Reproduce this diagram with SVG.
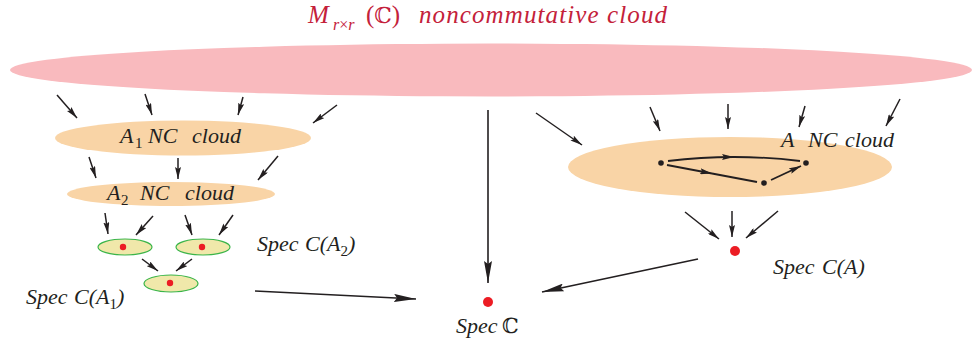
<svg xmlns="http://www.w3.org/2000/svg" width="973" height="346" viewBox="0 0 973 346">
<defs>
<marker id="ah" viewBox="0 0 12 6" refX="12" refY="3" markerWidth="12" markerHeight="6" markerUnits="userSpaceOnUse" orient="auto"><path d="M0,0 L12,3 L0,6 L2,3 Z" fill="#231f20"/></marker>
<marker id="ahl" viewBox="0 0 22 8" refX="22" refY="4" markerWidth="22" markerHeight="8" markerUnits="userSpaceOnUse" orient="auto"><path d="M0,0 L22,4 L0,8 L3,4 Z" fill="#231f20"/></marker>
</defs>
<style>
.t{font-family:"Liberation Serif","Times New Roman",serif;font-style:italic;fill:#231f20;font-size:22px}
.up{font-style:normal}
.bb{font-family:"DejaVu Serif","DejaVu Sans",serif;font-style:normal}
.ttl{font-family:"Liberation Serif","Times New Roman",serif;font-style:italic;fill:#c4213a;font-size:25px}
.a{stroke:#231f20;stroke-width:1.5;fill:none;marker-end:url(#ah)}
.al{stroke:#231f20;stroke-width:1.6;fill:none;marker-end:url(#ahl)}
.g{stroke:#231f20;stroke-width:1.8;fill:none}
.cloud{fill:#f9d4a6}
.pt{fill:#ec1c24}
.sm{fill:#f0e8aa;stroke:#3bb54a;stroke-width:1.2}
</style>

<g id="title">
<text class="ttl" y="23"><tspan x="308">M</tspan><tspan x="333" y="30" font-size="16">r</tspan><tspan class="up" y="30" font-size="16">×</tspan><tspan y="30" font-size="16">r</tspan><tspan class="up" x="366" y="23">(</tspan><tspan class="bb" font-size="22">ℂ</tspan><tspan class="up">)</tspan><tspan x="419" textLength="248">noncommutative cloud</tspan></text>
</g>

<g id="nc-cloud"><ellipse cx="491" cy="70" rx="481" ry="26.5" fill="#f9babe"/></g>

<g id="a1-cloud">
<ellipse class="cloud" cx="183" cy="138" rx="128" ry="17.5"/>
<text class="t" y="143"><tspan x="120">A</tspan><tspan class="up" x="135" y="148" font-size="15">1</tspan><tspan x="148" y="143">NC</tspan><tspan x="192">cloud</tspan></text>
</g>

<g id="a2-cloud">
<ellipse class="cloud" cx="171" cy="194" rx="104" ry="12"/>
<text class="t" y="200"><tspan x="107">A</tspan><tspan class="up" x="121" y="205" font-size="15">2</tspan><tspan x="140" y="200">NC</tspan><tspan x="185">cloud</tspan></text>
</g>

<g id="spec-a2-pts">
<ellipse class="sm" cx="125" cy="247" rx="27" ry="8"/><circle class="pt" cx="123" cy="247" r="3.2"/>
<ellipse class="sm" cx="203" cy="247" rx="27" ry="8"/><circle class="pt" cx="202" cy="247" r="3.2"/>
<ellipse class="sm" cx="171" cy="283.5" rx="27" ry="8.5"/><circle class="pt" cx="170" cy="283" r="3.2"/>
</g>

<g id="spec-a2-label"><text class="t" y="251"><tspan x="257">Spec</tspan><tspan x="305">C(A</tspan><tspan class="up" y="256" font-size="15">2</tspan><tspan y="251">)</tspan></text></g>
<g id="spec-a1-label"><text class="t" y="304"><tspan x="26">Spec</tspan><tspan x="74">C(A</tspan><tspan class="up" y="309" font-size="15">1</tspan><tspan y="304">)</tspan></text></g>

<g id="a-cloud">
<ellipse class="cloud" cx="730" cy="167" rx="162" ry="30"/>
<text class="t" y="147"><tspan x="781">A</tspan><tspan x="808">NC</tspan><tspan x="845">cloud</tspan></text>
<circle cx="661" cy="163" r="2.8" fill="#231f20"/>
<circle cx="806" cy="163" r="2.8" fill="#231f20"/>
<circle cx="764" cy="183" r="2.8" fill="#231f20"/>
<path class="g" d="M668,161 Q701,157 734,157" marker-end="url(#ah)"/>
<path class="g" d="M734,157 Q767,157 800,161"/>
<path class="g" d="M667,165 L712,173.5" marker-end="url(#ah)"/>
<path class="g" d="M712,173.5 L757,182"/>
<path class="g" d="M771,180 L801,166" marker-end="url(#ah)"/>
</g>

<g id="spec-a">
<circle class="pt" cx="735" cy="251" r="5"/>
<text class="t" y="274"><tspan x="773">Spec</tspan><tspan x="822">C(A)</tspan></text>
</g>

<g id="spec-c">
<circle class="pt" cx="488" cy="302" r="5"/>
<text class="t" y="333"><tspan x="456">Spec</tspan><tspan class="bb" x="502" font-size="21">ℂ</tspan></text>
</g>

<g id="connectors">
<line class="a" x1="57" y1="95" x2="77" y2="118"/>
<line class="a" x1="145" y1="94" x2="152" y2="115"/>
<line class="a" x1="243" y1="97" x2="238" y2="115"/>
<line class="a" x1="337" y1="105" x2="313" y2="123"/>
<line class="a" x1="89" y1="157" x2="96" y2="178"/>
<line class="a" x1="178" y1="158" x2="178" y2="179"/>
<line class="a" x1="278" y1="156" x2="258" y2="180"/>
<line class="a" x1="105" y1="213" x2="108" y2="234"/>
<line class="a" x1="153" y1="216" x2="136" y2="235"/>
<line class="a" x1="185" y1="215" x2="192" y2="235"/>
<line class="a" x1="233" y1="215" x2="219" y2="235"/>
<line class="a" x1="142" y1="259" x2="158" y2="271"/>
<line class="a" x1="192" y1="259" x2="176" y2="271"/>
<line class="al" x1="255" y1="291" x2="416" y2="299"/>
<line class="al" x1="488" y1="110" x2="488" y2="283"/>
<line class="al" x1="698" y1="259" x2="542" y2="292"/>
<line class="a" x1="536" y1="113" x2="582" y2="145"/>
<line class="a" x1="650" y1="107" x2="660" y2="131"/>
<line class="a" x1="728" y1="104" x2="728" y2="129"/>
<line class="a" x1="805" y1="106" x2="799" y2="127"/>
<line class="a" x1="900" y1="99" x2="886" y2="126"/>
<line class="a" x1="685" y1="212" x2="719" y2="239"/>
<line class="a" x1="732" y1="211" x2="732" y2="237"/>
<line class="a" x1="778" y1="211" x2="746" y2="238"/>
</g>
</svg>
